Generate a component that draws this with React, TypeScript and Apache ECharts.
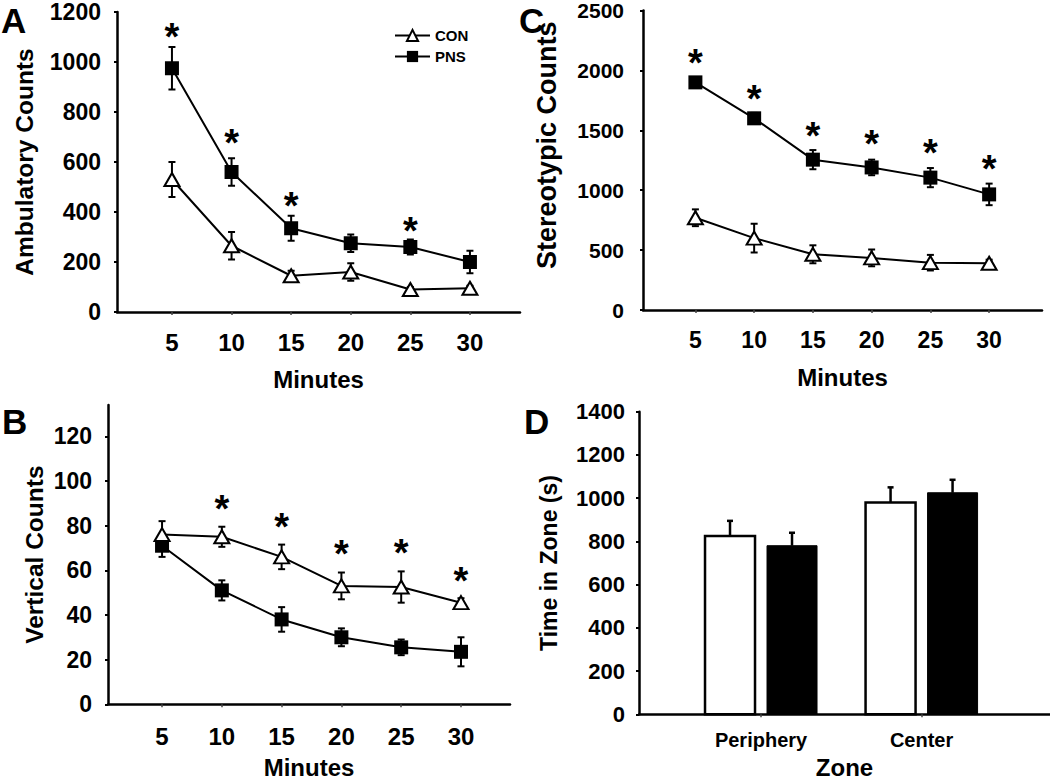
import React, { useEffect, useRef } from "react";
import * as echarts from "echarts";

// ---------- data ----------
const minutes = [5, 10, 15, 20, 25, 30];

const ambCon = [530, 265, 145, 160, 90, 95];
const ambConErr = [70, 55, 20, 35, 10, 10];
const ambPns = [975, 560, 335, 275, 260, 200];
const ambPnsErr = [85, 55, 50, 35, 30, 45];
const ambStarMin = [5, 10, 15, 25];
const ambStarY = [1137, 713, 461, 361];

const vertCon = [76, 75, 66, 53, 52.5, 45.5];
const vertConErr = [6, 4.5, 5.5, 6, 7, 2];
const vertPns = [71, 51, 38, 30, 25.5, 23.5];
const vertPnsErr = [5, 4.5, 5.5, 4, 3.5, 6.5];
const vertStarMin = [10, 15, 20, 25, 30];
const vertStarY = [91.6, 83.4, 71.1, 71.7, 59.2];

const stereoCon = [770, 600, 465, 435, 395, 390];
const stereoConErr = [70, 120, 75, 70, 65, 30];
const stereoPns = [1900, 1600, 1255, 1190, 1105, 965];
const stereoPnsErr = [35, 45, 80, 65, 80, 90];
const stereoStarMin = [5, 10, 15, 20, 25, 30];
const stereoStarY = [2139, 1833, 1528, 1458, 1383, 1250];

const zones = ["Periphery", "Center"];
const zonePos = [1, 2];
const zoneCon = [825, 980];
const zoneConErr = [70, 70];
const zonePns = [780, 1025];
const zonePnsErr = [60, 60];

const ambTicks = [0, 200, 400, 600, 800, 1000, 1200];
const vertTicks = [0, 20, 40, 60, 80, 100, 120];
const stereoTicks = [0, 500, 1000, 1500, 2000, 2500];
const zoneTicks = [0, 200, 400, 600, 800, 1000, 1200, 1400];

// ---------- helpers ----------
const FONT = '"Liberation Sans", Arial, Helvetica, sans-serif';
const BLACK = "#000";

function pairs(xs: number[], ys: number[]) {
  return xs.map((x, i) => [x, ys[i]]);
}

function errSeries(idx: number, xs: number[], ys: number[], es: number[]) {
  return {
    type: "custom",
    xAxisIndex: idx,
    yAxisIndex: idx,
    silent: true,
    z: 1,
    data: xs.map((x, i) => [x, ys[i], es[i]]),
    renderItem: (_p: any, api: any) => {
      const x = api.value(0);
      const y = api.value(1);
      const e = api.value(2);
      const t = api.coord([x, y + e]);
      const b = api.coord([x, y - e]);
      const st = { stroke: BLACK, lineWidth: 2 };
      const c = 3.5;
      return {
        type: "group",
        children: [
          { type: "line", shape: { x1: t[0], y1: t[1], x2: b[0], y2: b[1] }, style: st },
          { type: "line", shape: { x1: t[0] - c, y1: t[1], x2: t[0] + c, y2: t[1] }, style: st },
          { type: "line", shape: { x1: b[0] - c, y1: b[1], x2: b[0] + c, y2: b[1] }, style: st },
        ],
      };
    },
  };
}

function starSeries(idx: number, xs: number[], ys: number[]) {
  return {
    type: "custom",
    xAxisIndex: idx,
    yAxisIndex: idx,
    silent: true,
    z: 5,
    data: pairs(xs, ys),
    renderItem: (_p: any, api: any) => {
      const p = api.coord([api.value(0), api.value(1)]);
      return {
        type: "text",
        x: p[0],
        y: p[1] + 9,
        style: {
          text: "*",
          fontSize: 38,
          fontWeight: "bold",
          fontFamily: FONT,
          fill: BLACK,
          align: "center",
          verticalAlign: "middle",
        },
      };
    },
  };
}

function lineSeries(idx: number, name: string, ys: number[], con: boolean) {
  return {
    type: "line",
    name,
    xAxisIndex: idx,
    yAxisIndex: idx,
    z: con ? 4 : 3,
    data: pairs(minutes, ys),
    symbol: con ? "triangle" : "rect",
    symbolSize: con ? [15, 13] : 14,
    lineStyle: { color: BLACK, width: 2 },
    itemStyle: con
      ? { color: "#fff", borderColor: BLACK, borderWidth: 2 }
      : { color: BLACK, borderColor: BLACK, borderWidth: 0 },
  };
}

function barSeries(idx: number, name: string, ys: number[], es: number[], con: boolean) {
  return {
    type: "custom",
    name,
    xAxisIndex: idx,
    yAxisIndex: idx,
    silent: true,
    data: zonePos.map((x, i) => [x, ys[i], es[i]]),
    renderItem: (_p: any, api: any) => {
      const x = api.value(0);
      const y = api.value(1);
      const e = api.value(2);
      const base = api.coord([x, 0]);
      const top = api.coord([x, y]);
      const et = api.coord([x, y + e]);
      const left = con ? base[0] - 56 : base[0] + 6;
      const w = 50;
      const cx = left + w / 2;
      const st = { stroke: BLACK, lineWidth: 2.5 };
      return {
        type: "group",
        children: [
          { type: "line", shape: { x1: cx, y1: top[1], x2: cx, y2: et[1] }, style: st },
          { type: "line", shape: { x1: cx - 3, y1: et[1], x2: cx + 3, y2: et[1] }, style: st },
          {
            type: "rect",
            shape: { x: left, y: top[1], width: w, height: base[1] - top[1] },
            style: con
              ? { fill: "#fff", stroke: BLACK, lineWidth: 2.5 }
              : { fill: BLACK, stroke: BLACK, lineWidth: 1 },
          },
        ],
      };
    },
  };
}

function xAxisCfg(idx: number, min: number, max: number, vals: number[], name: string, nameGap: number, fs: number, margin: number, fmt?: (v: number) => string) {
  return {
    type: "value",
    gridIndex: idx,
    min,
    max,
    name,
    nameLocation: "middle",
    nameGap,
    nameTextStyle: { fontSize: 24, fontWeight: "bold", fontFamily: FONT, color: BLACK },
    splitLine: { show: false },
    axisLine: { show: true, onZero: false, lineStyle: { color: BLACK, width: 2.5 } },
    axisTick: { show: true, length: 3, customValues: vals, lineStyle: { color: "#444", width: 1.5 } },
    axisLabel: {
      customValues: vals,
      margin,
      fontSize: fs,
      fontWeight: "bold",
      fontFamily: FONT,
      color: BLACK,
      formatter: fmt ? fmt : (v: number) => String(v),
    },
  };
}

function yAxisCfg(idx: number, max: number, ticks: number[], name: string, nameGap: number, nameFs: number, fs: number, margin: number, pad?: number[]) {
  return {
    type: "value",
    gridIndex: idx,
    min: 0,
    max,
    name,
    nameLocation: "middle",
    nameGap,
    nameTextStyle: { fontSize: nameFs, fontWeight: "bold", fontFamily: FONT, color: BLACK, padding: pad || 0 },
    splitLine: { show: false },
    axisLine: { show: true, lineStyle: { color: BLACK, width: 2.5 } },
    axisTick: { show: true, length: 3, customValues: ticks, lineStyle: { color: BLACK, width: 2 } },
    axisLabel: {
      customValues: ticks,
      margin,
      fontSize: fs,
      fontWeight: "bold",
      fontFamily: FONT,
      color: BLACK,
      formatter: (v: number) => String(v),
    },
  };
}

function letter(t: string, x: number, y: number) {
  return {
    type: "text",
    left: x,
    top: y,
    style: { text: t, fontSize: 35, fontWeight: "bold", fontFamily: FONT, fill: BLACK },
  };
}

export default function App() {
  const ref = useRef<HTMLDivElement>(null);
  useEffect(() => {
    if (!ref.current) return;
    const chart = echarts.init(ref.current, null, { renderer: "svg" });
    chart.setOption({
      animation: false,
      backgroundColor: "#fff",
      textStyle: { fontFamily: FONT },
      grid: [
        { left: 117, top: 12, width: 403, height: 300 },
        { left: 108, top: 405, width: 402, height: 299.3 },
        { left: 643, top: 10, width: 399, height: 300 },
        { left: 639, top: 411.7, width: 411, height: 302.6 },
      ],
      legend: {
        data: ["CON", "PNS"],
        orient: "vertical",
        left: 389,
        top: 23,
        itemWidth: 35,
        itemHeight: 14,
        itemGap: 6,
        selectedMode: false,
        textStyle: { fontSize: 15, fontWeight: "bold", fontFamily: FONT, color: BLACK },
      },
      xAxis: [
        xAxisCfg(0, 0.39, 34.2, minutes, "Minutes", 55, 24, 18),
        xAxisCfg(1, 0.48, 34.1, minutes, "Minutes", 51, 24, 20),
        xAxisCfg(2, 0.54, 34.5, minutes, "Minutes", 55, 23, 18),
        xAxisCfg(3, 0.24, 2.8, zonePos, "Zone", 41, 20, 16, (v: number) => zones[v - 1] || ""),
      ],
      yAxis: [
        yAxisCfg(0, 1200, ambTicks, "Ambulatory Counts", 80, 24.5, 23, 16),
        yAxisCfg(1, 134, vertTicks, "Vertical Counts", 61, 24.5, 23, 16),
        yAxisCfg(2, 2500, stereoTicks, "Stereotypic Counts", 83, 27, 21, 19, [0, 0, 0, 30]),
        yAxisCfg(3, 1400, zoneTicks, "Time in Zone (s)", 79, 23, 22, 14),
      ],
      graphic: [letter("A", 1, 3), letter("B", 2, 404), letter("C", 519, 3), letter("D", 524, 404)],
      series: [
        errSeries(0, minutes, ambPns, ambPnsErr),
        errSeries(0, minutes, ambCon, ambConErr),
        lineSeries(0, "PNS", ambPns, false),
        lineSeries(0, "CON", ambCon, true),
        starSeries(0, ambStarMin, ambStarY),

        errSeries(1, minutes, vertPns, vertPnsErr),
        errSeries(1, minutes, vertCon, vertConErr),
        lineSeries(1, "PNS", vertPns, false),
        lineSeries(1, "CON", vertCon, true),
        starSeries(1, vertStarMin, vertStarY),

        errSeries(2, minutes, stereoPns, stereoPnsErr),
        errSeries(2, minutes, stereoCon, stereoConErr),
        lineSeries(2, "PNS", stereoPns, false),
        lineSeries(2, "CON", stereoCon, true),
        starSeries(2, stereoStarMin, stereoStarY),

        barSeries(3, "CON bars", zoneCon, zoneConErr, true),
        barSeries(3, "PNS bars", zonePns, zonePnsErr, false),
      ],
    });
    return () => chart.dispose();
  }, []);
  return (
    <div
      ref={ref}
      style={{ position: "absolute", left: 0, top: 0, width: 1050, height: 781, background: "#fff" }}
    />
  );
}
